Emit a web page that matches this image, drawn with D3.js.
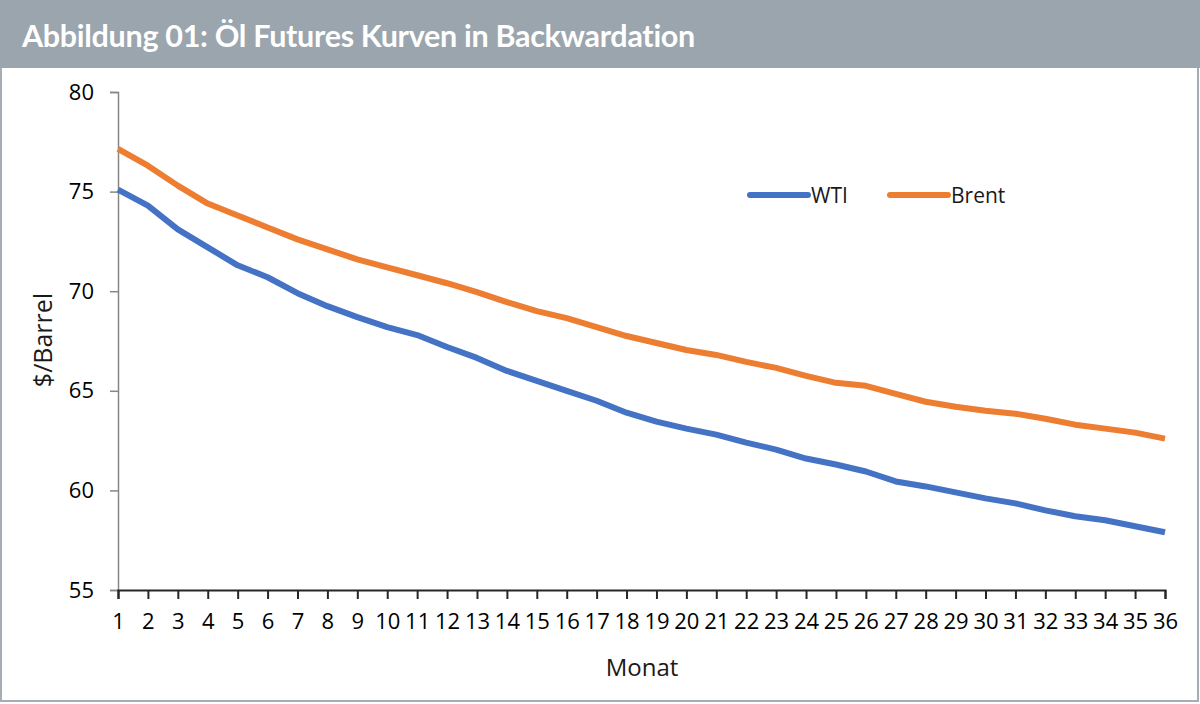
<!DOCTYPE html>
<html>
  <head>
    <meta charset="utf-8">
    <script src="https://cdn.jsdelivr.net/npm/d3@7"></script>
    <style>
      body { margin: 0; background: #fff; }
      svg text { font-family: "Open Sans", "DejaVu Sans", sans-serif; }
    </style>
  </head>
  <body>
    <svg width="1200" height="704"></svg>
    <script>
      // Monate 1..36
      var months = d3.range(1, 37)

      var wti = [75.1, 74.3, 73.1, 72.2, 71.3, 70.7, 69.9, 69.25, 68.7, 68.2,
                 67.8, 67.2, 66.65, 66.0, 65.5, 65.0, 64.5, 63.9, 63.45, 63.1,
                 62.8, 62.4, 62.05, 61.6, 61.3, 60.95, 60.45, 60.2, 59.9, 59.6,
                 59.35, 59.0, 58.7, 58.5, 58.2, 57.9]

      var brent = [77.15, 76.3, 75.3, 74.4, 73.8, 73.2, 72.6, 72.1, 71.6, 71.2,
                   70.8, 70.4, 69.95, 69.45, 69.0, 68.65, 68.2, 67.75, 67.4, 67.05,
                   66.8, 66.45, 66.15, 65.75, 65.4, 65.25, 64.85, 64.45, 64.2, 64.0,
                   63.85, 63.6, 63.3, 63.1, 62.9, 62.6]

      var seriesNames = ["WTI", "Brent"]
      var seriesColors = ["#4472c4", "#ed7d31"]
      var yTicks = [55, 60, 65, 70, 75, 80]

      var svg = d3.select("svg")

      // Rahmen + Titelbalken
      svg.append("rect")
        .attr("x", 1).attr("y", 1).attr("width", 1197).attr("height", 700)
        .attr("fill", "#fff").attr("stroke", "#a6adb4").attr("stroke-width", 2)
      svg.append("rect")
        .attr("x", 0).attr("y", 0).attr("width", 1200).attr("height", 68)
        .attr("fill", "#9ba5ae")
      svg.append("text")
        .attr("x", 22).attr("y", 47)
        .attr("fill", "#fff")
        .style("font-family", "Lato, 'Open Sans', sans-serif")
        .style("font-weight", "bold")
        .style("font-size", "30.5px")
        .attr("letter-spacing", "-0.3px")
        .text("Abbildung 01: Öl Futures Kurven in Backwardation")

      var x = d3.scaleLinear().domain([1, 36]).range([118, 1165])
      var y = d3.scaleLinear().domain([55, 80]).range([590, 92])

      // y-Achse
      var yAxis = svg.append("g")
        .attr("transform", "translate(118,0)")
        .call(d3.axisLeft(y).tickValues(yTicks).tickSize(8).tickPadding(16))
      yAxis.select(".domain").attr("stroke", "#868686").attr("stroke-width", 1.5)
      yAxis.selectAll(".tick line").attr("stroke", "#868686").attr("stroke-width", 1.5)
      yAxis.selectAll("text").style("font-size", "22px").attr("fill", "#000")

      // x-Achse
      var xAxis = svg.append("g")
        .attr("transform", "translate(0,590)")
        .call(d3.axisBottom(x).tickValues(months).tickFormat(d3.format("d")).tickSizeInner(9).tickSizeOuter(9).tickPadding(14))
      xAxis.select(".domain").attr("stroke", "#262626").attr("stroke-width", 2)
      xAxis.selectAll(".tick line").attr("stroke", "#262626").attr("stroke-width", 2)
      xAxis.selectAll("text").style("font-size", "22px").attr("fill", "#000")

      svg.append("text")
        .attr("x", 642).attr("y", 676)
        .attr("text-anchor", "middle")
        .style("font-size", "24px")
        .attr("fill", "#1a1a1a")
        .text("Monat")

      svg.append("text")
        .attr("transform", "translate(52,340) rotate(-90)")
        .attr("text-anchor", "middle")
        .style("font-size", "25px")
        .attr("fill", "#1a1a1a")
        .text("$/Barrel")

      // Linien
      var line = d3.line()
        .x(function(d, i){ return x(months[i]) })
        .y(function(d){ return y(d) })

      svg.selectAll(".serie")
        .data([wti, brent])
        .enter()
        .append("path")
        .attr("class", "serie")
        .attr("d", line)
        .attr("fill", "none")
        .attr("stroke", function(d, i){ return seriesColors[i] })
        .attr("stroke-width", 6)
        .attr("stroke-linejoin", "round")

      // Legende
      var legendX = [748, 888]
      var leg = svg.selectAll(".leg")
        .data(seriesNames)
        .enter()
        .append("g")
        .attr("class", "leg")
        .attr("transform", function(d, i){ return "translate(" + legendX[i] + ",195)" })
      leg.append("line")
        .attr("x1", 2).attr("x2", 60)
        .attr("stroke", function(d, i){ return seriesColors[i] })
        .attr("stroke-width", 6)
        .attr("stroke-linecap", "round")
      leg.append("text")
        .attr("x", 63).attr("y", 8)
        .style("font-size", "21px")
        .attr("fill", "#1a1a1a")
        .text(function(d){ return d })
    </script>
  </body>
</html>
